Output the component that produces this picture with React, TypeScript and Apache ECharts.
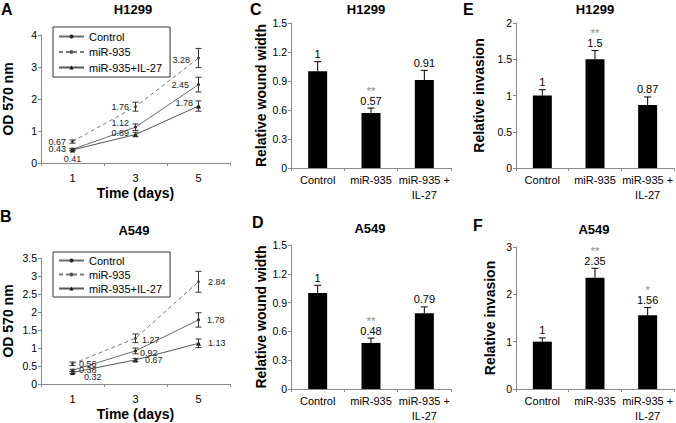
import React, { useEffect, useRef } from 'react';
import * as echarts from 'echarts';

// ---------- Data ----------
const days = ['1', '3', '5'];
const lineNames = ['Control', 'miR-935', 'miR-935+IL-27'];

// Panel A (H1299, OD 570 nm)
const h1299Control = [0.43, 1.12, 2.45];
const h1299ControlErr = [0.03, 0.1, 0.23];
const h1299MiR = [0.67, 1.76, 3.28];
const h1299MiRErr = [0.05, 0.14, 0.3];
const h1299IL = [0.41, 0.89, 1.78];
const h1299ILErr = [0.03, 0.07, 0.16];

// Panel B (A549, OD 570 nm)
const a549Control = [0.38, 0.92, 1.78];
const a549ControlErr = [0.03, 0.08, 0.2];
const a549MiR = [0.56, 1.27, 2.84];
const a549MiRErr = [0.05, 0.12, 0.29];
const a549IL = [0.32, 0.67, 1.13];
const a549ILErr = [0.03, 0.04, 0.12];

// Bar panels
const groups = ['Control', 'miR-935', 'miR-935 +\nIL-27'];
const h1299Wound = [1, 0.57, 0.91];
const h1299WoundErr = [0.1, 0.05, 0.1];
const h1299WoundSig = ['', '**', ''];
const a549Wound = [1, 0.48, 0.79];
const a549WoundErr = [0.08, 0.05, 0.065];
const a549WoundSig = ['', '**', ''];
const h1299Invasion = [1, 1.5, 0.87];
const h1299InvasionErr = [0.08, 0.12, 0.11];
const h1299InvasionSig = ['', '**', ''];
const a549Invasion = [1, 2.35, 1.56];
const a549InvasionErr = [0.08, 0.2, 0.16];
const a549InvasionSig = ['', '**', '*'];

const FONT = "'Liberation Sans', Arial, Helvetica, sans-serif";
const AXIS = '#8a8a8a';

type LblCfg = { position: string; distance?: number; offset?: [number, number] };

function lineData(vals: number[], cfg: LblCfg[]) {
  return vals.map((v, i) => ({ value: v, label: { ...cfg[i] } }));
}

function lineErrItem(vals: number[], errs: number[]) {
  return (params: any, api: any) => {
    const i = params.dataIndex;
    const t = api.coord([i, vals[i] + errs[i]]);
    const b = api.coord([i, vals[i] - errs[i]]);
    const w = 3;
    const st = { stroke: '#333', lineWidth: 1 };
    return {
      type: 'group',
      children: [
        { type: 'line', shape: { x1: t[0], y1: t[1], x2: b[0], y2: b[1] }, style: st },
        { type: 'line', shape: { x1: t[0] - w, y1: t[1], x2: t[0] + w, y2: t[1] }, style: st },
        { type: 'line', shape: { x1: b[0] - w, y1: b[1], x2: b[0] + w, y2: b[1] }, style: st },
      ],
    };
  };
}

function barErrItem(vals: number[], errs: number[], sigs: string[]) {
  return (params: any, api: any) => {
    const i = params.dataIndex;
    const base = api.coord([i, vals[i]]);
    const t = api.coord([i, vals[i] + errs[i]]);
    const w = 3.5;
    const st = { stroke: '#000', lineWidth: 1 };
    const children: any[] = [
      { type: 'line', shape: { x1: base[0], y1: base[1], x2: t[0], y2: t[1] }, style: st },
      { type: 'line', shape: { x1: t[0] - w, y1: t[1], x2: t[0] + w, y2: t[1] }, style: st },
      {
        type: 'text',
        x: t[0],
        y: t[1] - 2,
        style: { text: String(vals[i]), font: `11px ${FONT}`, fill: '#000', align: 'center', verticalAlign: 'bottom' },
      },
    ];
    if (sigs[i]) {
      children.push({
        type: 'text',
        x: t[0],
        y: t[1] - 12,
        style: { text: sigs[i], font: `11px ${FONT}`, fill: '#888', align: 'center', verticalAlign: 'bottom' },
      });
    }
    return { type: 'group', children };
  };
}

const grids = [
  { left: 41, top: 35, width: 189, height: 128 }, // A
  { left: 41, top: 258, width: 189, height: 126 }, // B
  { left: 291, top: 23, width: 160, height: 145 }, // C
  { left: 291, top: 245, width: 160, height: 146 }, // D
  { left: 516, top: 23, width: 159, height: 145 }, // E
  { left: 516, top: 247, width: 159, height: 142 }, // F
];

function xCat(gridIndex: number, data: string[], isLine: boolean) {
  return {
    type: 'category',
    gridIndex,
    data,
    boundaryGap: true,
    axisLine: { lineStyle: { color: AXIS } },
    axisTick: { show: true, length: 3, lineStyle: { color: AXIS } },
    axisLabel: {
      interval: 0,
      color: '#000',
      fontSize: 11,
      margin: isLine ? 7 : 4,
      lineHeight: 15,
      fontFamily: FONT,
    },
    name: isLine ? 'Time (days)' : '',
    nameLocation: 'middle',
    nameGap: gridIndex === 0 ? 21 : 23,
    nameTextStyle: { fontSize: 14, fontWeight: 'bold', color: '#000', fontFamily: FONT },
  };
}

function yVal(gridIndex: number, max: number, interval: number, name: string, nameGap: number) {
  return {
    type: 'value',
    gridIndex,
    min: 0,
    max,
    interval,
    splitLine: { show: false },
    axisLine: { show: true, lineStyle: { color: AXIS } },
    axisTick: { show: true, length: 3, lineStyle: { color: AXIS } },
    axisLabel: { color: '#000', fontSize: 10.5, margin: 4, fontFamily: FONT },
    name,
    nameLocation: 'middle',
    nameRotate: 90,
    nameGap,
    nameTextStyle: { fontSize: 14, fontWeight: 'bold', color: '#000', fontFamily: FONT },
  };
}

const lineStyles = [
  { lineStyle: { color: '#6a6a6a', width: 1, type: 'solid' }, itemStyle: { color: '#222' }, symbol: 'circle', symbolSize: 3 },
  { lineStyle: { color: '#7a7a7a', width: 1, type: [4, 3] }, itemStyle: { color: '#555' }, symbol: 'circle', symbolSize: 3 },
  { lineStyle: { color: '#555', width: 1, type: 'solid' }, itemStyle: { color: '#111' }, symbol: 'triangle', symbolSize: 5 },
];

function lineSeries(
  name: string,
  idx: number,
  vals: number[],
  cfg: LblCfg[],
  errs: number[]
) {
  const s = lineStyles[lineNames.indexOf(name)];
  return [
    {
      type: 'line',
      name,
      xAxisIndex: idx,
      yAxisIndex: idx,
      data: lineData(vals, cfg),
      ...s,
      showSymbol: true,
      z: 3,
      label: { show: true, fontSize: 9, color: '#222', fontFamily: FONT },
    },
    {
      type: 'custom',
      xAxisIndex: idx,
      yAxisIndex: idx,
      data: vals.map((v, i) => [i, v]),
      renderItem: lineErrItem(vals, errs),
      z: 4,
      silent: true,
    },
  ];
}

function barSeries(idx: number, vals: number[], errs: number[], sigs: string[]) {
  return [
    {
      type: 'bar',
      xAxisIndex: idx,
      yAxisIndex: idx,
      data: vals,
      barWidth: 19,
      itemStyle: { color: '#000' },
      z: 2,
    },
    {
      type: 'custom',
      xAxisIndex: idx,
      yAxisIndex: idx,
      data: vals.map((v, i) => [i, v]),
      renderItem: barErrItem(vals, errs, sigs),
      z: 4,
      silent: true,
    },
  ];
}

// label layouts (style only)
const aCtrlLbl: LblCfg[] = [
  { position: 'left', distance: 5, offset: [0, 0] },
  { position: 'left', distance: 5, offset: [0, -4] },
  { position: 'left', distance: 8, offset: [0, 0] },
];
const aMiRLbl: LblCfg[] = [
  { position: 'left', distance: 5 },
  { position: 'left', distance: 5 },
  { position: 'left', distance: 7, offset: [0, 2] },
];
const aILLbl: LblCfg[] = [
  { position: 'bottom', distance: 2 },
  { position: 'left', distance: 4, offset: [0, -2] },
  { position: 'left', distance: 3, offset: [0, -3] },
];
const bCtrlLbl: LblCfg[] = [
  { position: 'right', distance: 5 },
  { position: 'right', distance: 3, offset: [0, 2] },
  { position: 'right', distance: 7 },
];
const bMiRLbl: LblCfg[] = [
  { position: 'right', distance: 5 },
  { position: 'right', distance: 5, offset: [0, 2] },
  { position: 'right', distance: 8 },
];
const bILLbl: LblCfg[] = [
  { position: 'right', distance: 5, offset: [4, 5] },
  { position: 'right', distance: 7 },
  { position: 'right', distance: 7 },
];

function legend(top: number, itemGap: number, pad: number) {
  return {
    data: lineNames,
    orient: 'vertical',
    left: 53,
    top,
    itemWidth: 25,
    itemHeight: 5,
    itemGap,
    padding: [pad, 8, pad, 5],
    borderColor: '#333',
    borderWidth: 1,
    selectedMode: false,
    textStyle: { fontSize: 11, color: '#000', fontFamily: FONT, lineHeight: 13 },
  };
}

function txt(text: string, x: number, y: number, size: number, align = 'center') {
  return {
    type: 'text',
    x,
    y,
    style: { text, font: `bold ${size}px ${FONT}`, fill: '#000', align, verticalAlign: 'middle' },
  };
}

export default function App() {
  const ref = useRef<HTMLDivElement>(null);
  useEffect(() => {
    if (!ref.current) return;
    const chart = echarts.init(ref.current, null, { renderer: 'svg' });
    const option: any = {
      animation: false,
      backgroundColor: '#fff',
      textStyle: { fontFamily: FONT },
      grid: grids,
      legend: [legend(27, 2.5, 3), legend(252, 1, 2)],
      xAxis: [
        xCat(0, days, true),
        xCat(1, days, true),
        xCat(2, groups, false),
        xCat(3, groups, false),
        xCat(4, groups, false),
        xCat(5, groups, false),
      ],
      yAxis: [
        yVal(0, 4, 1, 'OD 570 nm', 26),
        yVal(1, 3.5, 0.5, 'OD 570 nm', 26),
        yVal(2, 1.5, 0.3, 'Relative wound width', 23),
        yVal(3, 1.5, 0.3, 'Relative wound width', 23),
        yVal(4, 2, 0.5, 'Relative invasion', 30),
        yVal(5, 3, 1, 'Relative invasion', 19),
      ],
      series: [
        ...lineSeries('Control', 0, h1299Control, aCtrlLbl, h1299ControlErr),
        ...lineSeries('miR-935', 0, h1299MiR, aMiRLbl, h1299MiRErr),
        ...lineSeries('miR-935+IL-27', 0, h1299IL, aILLbl, h1299ILErr),
        ...lineSeries('Control', 1, a549Control, bCtrlLbl, a549ControlErr),
        ...lineSeries('miR-935', 1, a549MiR, bMiRLbl, a549MiRErr),
        ...lineSeries('miR-935+IL-27', 1, a549IL, bILLbl, a549ILErr),
        ...barSeries(2, h1299Wound, h1299WoundErr, h1299WoundSig),
        ...barSeries(3, a549Wound, a549WoundErr, a549WoundSig),
        ...barSeries(4, h1299Invasion, h1299InvasionErr, h1299InvasionSig),
        ...barSeries(5, a549Invasion, a549InvasionErr, a549InvasionSig),
      ],
      graphic: [
        txt('A', 1, 9, 16, 'left'),
        txt('B', 0, 216, 16, 'left'),
        txt('C', 250, 9, 16, 'left'),
        txt('D', 252, 222, 16, 'left'),
        txt('E', 463, 9, 16, 'left'),
        txt('F', 473, 225, 16, 'left'),
        txt('H1299', 133, 9, 13),
        txt('A549', 134, 230, 13),
        txt('H1299', 366, 9, 13),
        txt('A549', 370, 228, 13),
        txt('H1299', 595, 9, 13),
        txt('A549', 594, 229, 13),
      ],
    };
    chart.setOption(option);
    return () => chart.dispose();
  }, []);
  return (
    <div
      ref={ref}
      style={{ position: 'fixed', left: 0, top: 0, width: 676, height: 423, background: '#fff' }}
    />
  );
}
